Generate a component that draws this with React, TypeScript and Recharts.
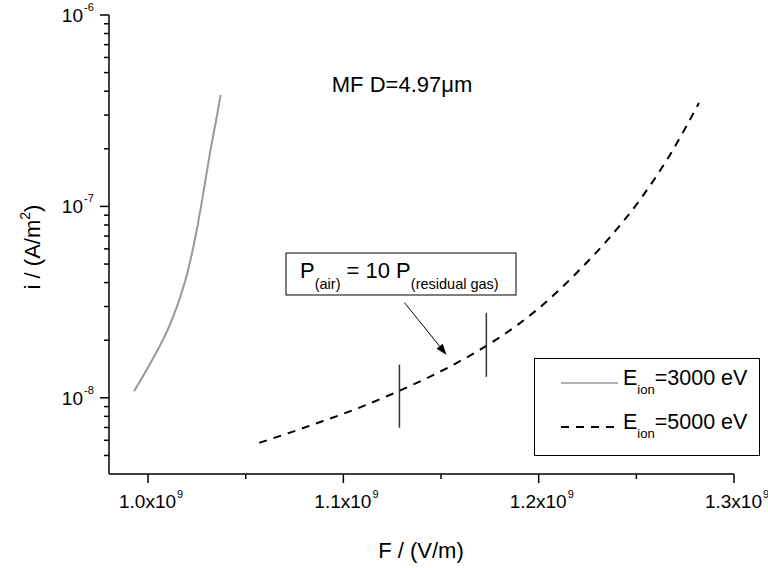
import React from 'react';
import { LineChart, Line, XAxis, YAxis, ReferenceLine, Legend } from 'recharts';

const FONT = '"Liberation Sans", Arial, Helvetica, sans-serif';

// E_ion = 3000 eV (gray, solid)
const f3000 = [0.99282e9, 1.00225e9, 1.01079e9, 1.01599e9, 1.0201e9, 1.02462e9, 1.02799e9, 1.03138e9, 1.03455e9, 1.03718e9];
const i3000 = [1.083e-8, 1.585e-8, 2.362e-8, 3.255e-8, 4.487e-8, 7.26e-8, 1.126e-7, 1.82e-7, 2.72e-7, 3.82e-7];

// E_ion = 5000 eV (black, dashed)
const f5000 = [1.05692e9, 1.07231e9, 1.08923e9, 1.10667e9, 1.12872e9, 1.15436e9, 1.17333e9, 1.19026e9, 1.20564e9, 1.22103e9, 1.23641e9, 1.25179e9, 1.26718e9, 1.28205e9];
const i5000 = [5.82e-9, 6.56e-9, 7.54e-9, 8.76e-9, 1.089e-8, 1.453e-8, 1.872e-8, 2.449e-8, 3.293e-8, 4.67e-8, 6.89e-8, 1.081e-7, 1.856e-7, 3.475e-7];

const seriesNames = ['E_ion=3000 eV', 'E_ion=5000 eV'];

const xDomain = [0.98e9, 1.3e9];
const yDomain = [4e-9, 1e-6];
const xTicks = [1.0e9, 1.05e9, 1.1e9, 1.15e9, 1.2e9, 1.25e9, 1.3e9];
const xMajorTicks = [1.0e9, 1.1e9, 1.2e9, 1.3e9];
const yTicks = [
  5e-9, 6e-9, 7e-9, 8e-9, 9e-9,
  1e-8, 2e-8, 3e-8, 4e-8, 5e-8, 6e-8, 7e-8, 8e-8, 9e-8,
  1e-7, 2e-7, 3e-7, 4e-7, 5e-7, 6e-7, 7e-7, 8e-7, 9e-7,
  1e-6,
];

// vertical marks on the 5000 eV curve
const markerF = [1.1287e9, 1.1732e9];
const markerLow = [6.98e-9, 1.287e-8];
const markerHigh = [1.49e-8, 2.78e-8];

// annotation arrow
const arrowF = [1.1313e9, 1.1528e9];
const arrowI = [3.14e-8, 1.68e-8];

const data3000 = f3000.map((F, k) => ({ F, i: i3000[k] }));
const data5000 = f5000.map((F, k) => ({ F, i: i5000[k] }));

const isMajorX = (v: number) => xMajorTicks.some((m) => Math.abs(m - v) < 1e3);

const XTick = (props: any) => {
  const { x, y, payload } = props;
  const v = payload.value;
  const major = isMajorX(v);
  return (
    <g>
      <line x1={x} x2={x} y1={y} y2={y + (major ? 9 : 5)} stroke="#000" strokeWidth={1.5} />
      {major && (
        <g fontFamily={FONT} fill="#000">
          <text x={x + 28} y={y + 34} textAnchor="end" fontSize={19}>
            {(v / 1e9).toFixed(1) + 'x10'}
          </text>
          <text x={x + 29} y={y + 24} textAnchor="start" fontSize={11}>9</text>
        </g>
      )}
    </g>
  );
};

const YTick = (props: any) => {
  const { x, y, payload } = props;
  const v = payload.value;
  const lg = Math.log10(v);
  const exp = Math.round(lg);
  const major = Math.abs(lg - exp) < 1e-6;
  return (
    <g>
      <line x1={x - (major ? 9 : 5)} x2={x} y1={y} y2={y} stroke="#000" strokeWidth={1.5} />
      {major && (
        <g fontFamily={FONT} fill="#000">
          <text x={x - 26} y={y + 7} textAnchor="end" fontSize={19}>10</text>
          <text x={x - 25} y={y - 4} textAnchor="start" fontSize={11}>{String(exp)}</text>
        </g>
      )}
    </g>
  );
};

const ArrowShape = (p: any) => {
  const { x1, y1, x2, y2 } = p;
  const ang = Math.atan2(y2 - y1, x2 - x1);
  const L = 11;
  const W = 4;
  const bx = x2 - L * Math.cos(ang);
  const by = y2 - L * Math.sin(ang);
  const px = -Math.sin(ang) * W;
  const py = Math.cos(ang) * W;
  return (
    <g>
      <line x1={x1} y1={y1} x2={bx} y2={by} stroke="#000" strokeWidth={1} />
      <polygon points={`${x2},${y2} ${bx + px},${by + py} ${bx - px},${by - py}`} fill="#000" />
    </g>
  );
};

const renderName = (name: string) => {
  const m = /^(.*)_(\w+)(.*)$/.exec(name);
  if (!m) return <span>{name}</span>;
  return (
    <span>
      {m[1]}
      <span style={{ fontSize: 13, position: 'relative', top: 9 }}>{m[2]}</span>
      {m[3]}
    </span>
  );
};

const LegendBox = (props: any) => {
  const items: any[] = props.payload || [];
  return (
    <div
      style={{
        boxSizing: 'border-box',
        width: 226,
        height: 98,
        border: '1px solid #000',
        background: '#fff',
        position: 'relative',
        fontFamily: FONT,
      }}
    >
      {items.map((it, k) => {
        const dash = it?.payload?.strokeDasharray;
        return (
          <div key={k} style={{ position: 'absolute', left: 0, top: 24 + 44 * k, width: 226 }}>
            <svg width={60} height={4} style={{ position: 'absolute', left: 26, top: -2 }}>
              <line x1={0} x2={57} y1={2} y2={2} stroke={it.color} strokeWidth={dash ? 2 : 1.5} strokeDasharray={dash} />
            </svg>
            <div
              style={{
                position: 'absolute',
                left: 88,
                top: -17,
                fontSize: 21.5,
                lineHeight: '24px',
                whiteSpace: 'nowrap',
                color: '#000',
              }}
            >
              {renderName(String(it.value))}
            </div>
          </div>
        );
      })}
    </div>
  );
};

export default function App() {
  return (
    <div style={{ position: 'absolute', left: 0, top: 0, width: 768, height: 568, background: '#fff' }}>
      <LineChart width={768} height={568} margin={{ top: 15, right: 34, bottom: 34, left: 9 }}>
        <XAxis
          type="number"
          dataKey="F"
          domain={xDomain}
          ticks={xTicks}
          interval={0}
          allowDataOverflow
          height={60}
          tickSize={0}
          tickMargin={0}
          tickLine={false}
          tick={<XTick />}
          axisLine={{ stroke: '#000', strokeWidth: 1.5 }}
        />
        <YAxis
          type="number"
          scale="log"
          domain={yDomain}
          ticks={yTicks}
          interval={0}
          allowDataOverflow
          width={100}
          tickSize={0}
          tickMargin={0}
          tickLine={false}
          tick={<YTick />}
          axisLine={{ stroke: '#000', strokeWidth: 1.5 }}
        />
        <Line
          data={data3000}
          dataKey="i"
          name={seriesNames[0]}
          type="monotone"
          stroke="#999999"
          strokeWidth={2}
          dot={false}
          activeDot={false}
          isAnimationActive={false}
        />
        <Line
          data={data5000}
          dataKey="i"
          name={seriesNames[1]}
          type="monotone"
          stroke="#000000"
          strokeWidth={2}
          strokeDasharray="8 7"
          dot={false}
          activeDot={false}
          isAnimationActive={false}
        />
        {markerF.map((F, k) => (
          <ReferenceLine
            key={k}
            segment={[{ x: F, y: markerLow[k] }, { x: F, y: markerHigh[k] }]}
            stroke="#333"
            strokeWidth={1.5}
          />
        ))}
        <ReferenceLine
          segment={[{ x: arrowF[0], y: arrowI[0] }, { x: arrowF[1], y: arrowI[1] }]}
          shape={ArrowShape}
        />
        <Legend
          layout="horizontal"
          verticalAlign="middle"
          align="center"
          content={LegendBox}
          wrapperStyle={{ position: 'absolute', left: 534, top: 358, width: 226, height: 98 }}
        />
      </LineChart>
      <svg
        width={768}
        height={568}
        style={{ position: 'absolute', left: 0, top: 0, pointerEvents: 'none' }}
        fontFamily={FONT}
      >
        <text x={402} y={92} textAnchor="middle" fontSize={22} fill="#000">MF D=4.97μm</text>
        <rect x={286} y={253} width={230} height={42} fill="#fff" stroke="#000" strokeWidth={1} />
        <text x={300} y={278} fontSize={22} fill="#000">
          P<tspan fontSize={14.5} dy={11}>(air)</tspan>
          <tspan fontSize={22} dy={-11}> = 10 P</tspan>
          <tspan fontSize={14.5} dy={11}>(residual gas)</tspan>
        </text>
        <text x={421} y={558} textAnchor="middle" fontSize={22} fill="#000">F / (V/m)</text>
        <text x={40} y={247} textAnchor="middle" fontSize={22} fill="#000" transform="rotate(-90 40 247)">
          i / (A/m<tspan fontSize={14} dy={-10}>2</tspan>
          <tspan dy={10}>)</tspan>
        </text>
      </svg>
    </div>
  );
}
